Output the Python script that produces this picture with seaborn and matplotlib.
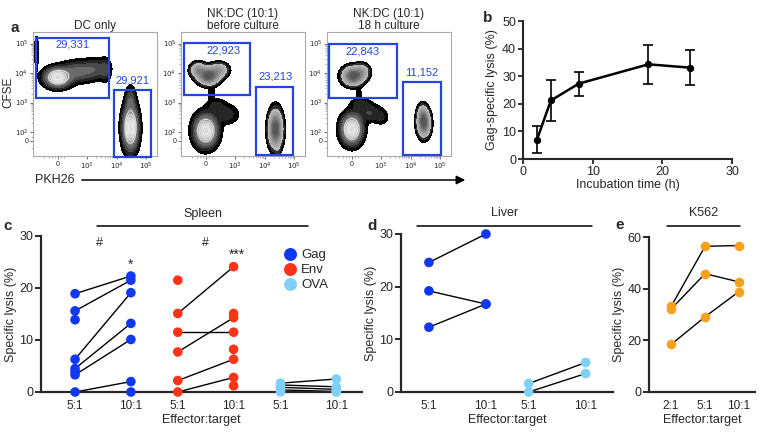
import numpy as np
import pandas as pd
import seaborn as sns
import matplotlib.pyplot as plt
from matplotlib.patches import Rectangle, FancyArrowPatch

sns.set_style('ticks')
plt.rcParams['font.family'] = ['Liberation Sans', 'DejaVu Sans']

# ---------------- data ----------------
# panel a: flow plots (gate counts and population shapes, axis units = decades)
flow_titles = ['DC only', 'NK:DC (10:1)\nbefore culture', 'NK:DC (10:1)\n18 h culture']
cfse_counts = ['29,331', '22,923', '22,843']
pkh_counts = ['29,921', '23,213', '11,152']
# gate boxes (u0, v0, u1, v1)
cfse_gates = [(-0.75, 3.17, 1.73, 5.2), (-0.75, 3.24, 1.49, 5.03), (-0.78, 3.14, 1.53, 5.0)]
pkh_gates = [(1.9, 1.14, 3.15, 3.41), (1.69, 1.24, 2.95, 3.54), (1.73, 1.24, 3.02, 3.68)]
cfse_label_pos = [(0.51, 4.97), (0.61, 4.76), (0.37, 4.73)]
pkh_label_pos = [(2.54, 3.75), (2.37, 3.88), (2.37, 4.02)]
# populations: (style, [(cu, cv, su, sv, weight), ...])
flow_pops = [
    [('rings', [(0.0, 3.85, 0.25, 0.18, 1.0), (0.7, 4.05, 0.35, 0.2, 0.3), (1.3, 4.15, 0.25, 0.2, 0.18),
                (1.62, 4.1, 0.1, 0.22, 0.15), (-0.72, 4.7, 0.05, 0.4, 0.08)]),
     ('rings', [(2.47, 2.15, 0.15, 0.42, 1.0), (2.47, 3.1, 0.1, 0.25, 0.2)])],
    [('dark', [(0.1, 3.9, 0.2, 0.16, 1.0), (-0.25, 4.1, 0.15, 0.14, 0.5), (0.45, 4.1, 0.18, 0.14, 0.4),
               (0.2, 3.2, 0.08, 0.18, 0.08)]),
     ('rings', [(0.0, 2.05, 0.22, 0.3, 1.0), (0.7, 2.6, 0.25, 0.2, 0.12), (0.35, 2.9, 0.2, 0.15, 0.1)]),
     ('dark', [(2.37, 2.1, 0.13, 0.35, 1.0), (2.45, 1.3, 0.05, 0.2, 0.05)])],
    [('dark', [(0.05, 3.9, 0.2, 0.17, 1.0), (0.35, 4.05, 0.15, 0.15, 0.3), (0.25, 3.2, 0.07, 0.15, 0.08)]),
     ('rings', [(0.0, 2.1, 0.2, 0.28, 1.0), (0.6, 2.65, 0.25, 0.18, 0.15), (1.0, 2.5, 0.15, 0.15, 0.08),
                (0.3, 2.95, 0.2, 0.12, 0.12)]),
     ('dark', [(2.45, 2.3, 0.12, 0.25, 1.0), (2.4, 2.6, 0.1, 0.2, 0.3)])],
]

# panel b
b_time = [2, 4, 8, 18, 24]
b_lysis = [7.0, 21.2, 27.3, 34.3, 33.1]
b_err = [4.8, 7.4, 4.3, 7.0, 6.3]

# panel c: spleen (paired; nan = not measured at that ratio)
nan = np.nan
gag_5 = [18.9, 15.6, 6.3, 4.5, 3.3, 0.0, 13.9, 3.9, nan]
gag_10 = [22.3, 21.5, 19.1, 13.2, 10.1, 2.0, nan, nan, 0.0]
env_5 = [15.1, 11.5, 7.7, 2.2, 0.0, 21.5, nan, nan, nan]
env_10 = [24.1, 11.5, 14.3, 6.3, 2.8, nan, 15.1, 8.2, 1.2]
ova_5 = [1.7, 1.35, 0.9, 0.4, 0.0]
ova_10 = [2.5, 1.0, 0.5, 0.1, 0.0]

# panel d: liver
gag_liver_5 = [24.6, 19.2, 12.3]
gag_liver_10 = [30.0, 16.7, 16.7]
ova_liver_5 = [1.6, 0.0]
ova_liver_10 = [5.6, 3.5]

# panel e: K562
k562_2 = [33.1, 32.1, 18.4]
k562_5 = [56.4, 45.8, 29.1]
k562_10 = [56.7, 42.6, 38.9]

colors = {'Gag': '#1138f0', 'Env': '#fa3517', 'OVA': '#7fd0f7', 'K562': '#f8a11c'}
gate_blue = '#2446e0'


def long_df(antigen, group, ratios, series):
    rows = []
    for ratio, vals in zip(ratios, series):
        for i, v in enumerate(vals):
            rows.append({'antigen': antigen, 'pair': f'{group}{i}', 'ratio': f'{group} {ratio}', 'lysis': v})
    return pd.DataFrame(rows)


fig = plt.figure(figsize=(7.62, 4.33), dpi=100)
W, H = 762, 433


def box(l, t, r, b):
    return [l / W, 1 - b / H, (r - l) / W, (b - t) / H]


def fx(px):
    return px / W


def fy(py):
    return 1 - py / H


# ---------------- panel a ----------------
uu, vv = np.meshgrid(np.linspace(-0.9, 3.45, 320), np.linspace(1.1, 5.45, 320))
levels = [0.03, 0.08, 0.15, 0.25, 0.4, 0.55, 0.7, 0.85, 1.01]
ring_cols = ['black', '#262626', '#4a4a4a', '#6a6a6a', '#8a8a8a', '#a8a8a8', '#c2c2c2', '#dadada']
dark_cols = ['black', '#303030', '#b8b8b8', '#a6a6a6', '#929292', '#7c7c7c', '#686868', '#575757']

flow_lefts = [33, 181, 327]
for k in range(3):
    ax = fig.add_axes(box(flow_lefts[k], 32, flow_lefts[k] + 124, 156))
    for style, comps in flow_pops[k]:
        d = np.zeros_like(uu)
        for cu, cv, su, sv, w in comps:
            d += w * np.exp(-0.5 * (((uu - cu) / su) ** 2 + ((vv - cv) / sv) ** 2))
        d = d / d.max()
        ax.contourf(uu, vv, d, levels=levels, colors=ring_cols if style == 'rings' else dark_cols)
        if style == 'rings':
            ax.contour(uu, vv, d, levels=[0.45, 0.6, 0.75, 0.9], colors='#f2f2f2', linewidths=0.6)
    for (u0, v0, u1, v1) in (cfse_gates[k], pkh_gates[k]):
        ax.add_patch(Rectangle((u0, v0), u1 - u0, v1 - v0, fill=False, ec=gate_blue, lw=1.6,
                               clip_on=False, zorder=5))
    ax.text(*cfse_label_pos[k], cfse_counts[k], color=gate_blue, fontsize=8, ha='center', va='center')
    ax.text(*pkh_label_pos[k], pkh_counts[k], color=gate_blue, fontsize=8, ha='center', va='center')
    ax.set_xlim(-0.84, 3.37)
    ax.set_ylim(1.19, 5.39)
    ax.set_xticks([0, 1, 2, 3], ['0', '$10^3$', '$10^4$', '$10^5$'])
    ax.set_yticks([1.7, 2, 3, 4, 5], ['0', '$10^2$', '$10^3$', '$10^4$', '$10^5$'])
    ax.set_xticks([-0.45, -0.3, -0.2, -0.1, 0.1, 0.2] + [1 + np.log10(m) for m in range(2, 10)]
                  + [2 + np.log10(m) for m in range(2, 10)], minor=True)
    ax.set_yticks([1.45, 1.85] + [e + np.log10(m) for e in (2, 3, 4) for m in range(2, 10)], minor=True)
    ax.tick_params(which='major', labelsize=5, length=2.2, width=0.6, color='#555', pad=1.2)
    ax.tick_params(which='minor', length=1.2, width=0.4, color='#777')
    for s in ax.spines.values():
        s.set_color('#aaaaaa')
        s.set_linewidth(0.8)
    ax.set_title(flow_titles[k], fontsize=8.5, pad=2, linespacing=1.05)

fig.text(fx(15), fy(28), 'a', fontsize=11, fontweight='bold', ha='center', va='center')
fig.text(fx(8), fy(92), 'CFSE', fontsize=8.5, rotation=90, ha='center', va='center')
fig.text(fx(35), fy(180), 'PKH26', fontsize=9, ha='left', va='center')
fig.add_artist(FancyArrowPatch((fx(79), fy(180)), (fx(468), fy(180)), transform=fig.transFigure,
                               arrowstyle='-|>', mutation_scale=13, lw=1.1, color='black'))

# ---------------- panel b ----------------
axb = fig.add_axes(box(523, 21, 732, 159))
sns.lineplot(x=b_time, y=b_lysis, ax=axb, color='black', lw=1.8, marker='o', ms=4.5, mec='black')
axb.errorbar(b_time, b_lysis, yerr=b_err, fmt='none', ecolor='black', elinewidth=1.2, capsize=3.5,
             capthick=1.2)
axb.set_xlim(0, 30)
axb.set_ylim(0, 50)
axb.set_xticks([0, 10, 20, 30])
axb.set_yticks([0, 10, 20, 30, 40, 50])
axb.set_xlabel('Incubation time (h)', fontsize=9, labelpad=1)
axb.set_ylabel('Gag-specific lysis (%)', fontsize=9, labelpad=3)
sns.despine(ax=axb)
for s in ('left', 'bottom'):
    axb.spines[s].set_linewidth(1.5)
axb.tick_params(labelsize=9, length=3.5, width=1.3, pad=1.5)
fig.text(fx(488), fy(18), 'b', fontsize=11, fontweight='bold', ha='center', va='center')


def style_dot_axes(ax):
    sns.despine(ax=ax)
    for s in ('left', 'bottom'):
        ax.spines[s].set_linewidth(1.6)
    ax.tick_params(axis='y', labelsize=9, length=4, width=1.4, pad=1.5)
    ax.tick_params(axis='x', labelsize=8.5, length=0, pad=6)


def paired(ax, df, pos):
    df = df.copy()
    df['x'] = df['ratio'].map(pos)
    sns.lineplot(data=df.dropna(), x='x', y='lysis', units='pair', estimator=None, color='black',
                 lw=1.0, ax=ax, legend=False)
    return df


# ---------------- panel c ----------------
axc = fig.add_axes(box(41, 236, 362, 392))
c_pos = {'g 5:1': 0, 'g 10:1': 1, 'e 5:1': 1.84, 'e 10:1': 2.84, 'o 5:1': 3.68, 'o 10:1': 4.68}
dfc = pd.concat([long_df('Gag', 'g', ['5:1', '10:1'], [gag_5, gag_10]),
                 long_df('Env', 'e', ['5:1', '10:1'], [env_5, env_10]),
                 long_df('OVA', 'o', ['5:1', '10:1'], [ova_5, ova_10])])
dfc = paired(axc, dfc, c_pos)
sns.scatterplot(data=dfc.dropna(), x='x', y='lysis', hue='antigen', hue_order=['Gag', 'Env', 'OVA'],
                palette=colors, s=48, linewidth=0, ax=axc, zorder=3, clip_on=False)
axc.set_xlim(-0.61, 5.14)
axc.set_ylim(0, 30)
axc.set_yticks([0, 10, 20, 30])
axc.set_xticks(list(c_pos.values()), [k.split(' ')[1] for k in c_pos])
axc.set_xlabel('Effector:target', fontsize=9, labelpad=1)
axc.set_ylabel('Specific lysis (%)', fontsize=9, labelpad=2)
style_dot_axes(axc)
sns.move_legend(axc, 'upper left', bbox_to_anchor=(0.755, 0.915), frameon=False, title=None,
                fontsize=9.5, markerscale=1.35, handlelength=1.0, handletextpad=0.35,
                labelspacing=0.2, borderpad=0, borderaxespad=0)
axc.plot([0.39, 4.18], [31.9, 31.9], color='black', lw=1.1, clip_on=False)
axc.text(2.29, 34.2, 'Spleen', fontsize=9, ha='center', va='center')
axc.text(0.43, 28.6, '#', fontsize=9, ha='center', va='center')
axc.text(2.34, 28.6, '#', fontsize=9, ha='center', va='center')
axc.text(1.0, 24.4, '*', fontsize=10, ha='center', va='center')
axc.text(2.9, 26.3, '***', fontsize=10, ha='center', va='center')
fig.text(fx(8), fy(226), 'c', fontsize=11, fontweight='bold', ha='center', va='center')

# ---------------- panel d ----------------
axd = fig.add_axes(box(401, 234, 613, 392))
d_pos = {'g 5:1': 0, 'g 10:1': 1, 'o 5:1': 1.75, 'o 10:1': 2.75}
dfd = pd.concat([long_df('Gag', 'g', ['5:1', '10:1'], [gag_liver_5, gag_liver_10]),
                 long_df('OVA', 'o', ['5:1', '10:1'], [ova_liver_5, ova_liver_10])])
dfd = paired(axd, dfd, d_pos)
sns.scatterplot(data=dfd, x='x', y='lysis', hue='antigen', palette=colors, s=48, linewidth=0,
                ax=axd, zorder=3, clip_on=False, legend=False)
axd.set_xlim(-0.49, 3.23)
axd.set_ylim(0, 30)
axd.set_yticks([0, 10, 20, 30])
axd.set_xticks(list(d_pos.values()), [k.split(' ')[1] for k in d_pos])
axd.set_xlabel('Effector:target', fontsize=9, labelpad=1)
axd.set_ylabel('Specific lysis (%)', fontsize=9, labelpad=2)
style_dot_axes(axd)
axd.plot([-0.21, 2.86], [31.5, 31.5], color='black', lw=1.1, clip_on=False)
axd.text(1.33, 33.9, 'Liver', fontsize=9, ha='center', va='center')
fig.text(fx(372), fy(226), 'd', fontsize=11, fontweight='bold', ha='center', va='center')

# ---------------- panel e ----------------
axe = fig.add_axes(box(649, 237, 755, 392))
e_pos = {'k 2:1': 0, 'k 5:1': 1, 'k 10:1': 2}
dfe = long_df('K562', 'k', ['2:1', '5:1', '10:1'], [k562_2, k562_5, k562_10])
dfe = paired(axe, dfe, e_pos)
sns.scatterplot(data=dfe, x='x', y='lysis', color=colors['K562'], s=48, linewidth=0,
                ax=axe, zorder=3, clip_on=False)
axe.set_xlim(-0.65, 2.47)
axe.set_ylim(0, 60)
axe.set_yticks([0, 20, 40, 60])
axe.set_xticks(list(e_pos.values()), [k.split(' ')[1] for k in e_pos])
axe.set_xlabel('Effector:target', fontsize=9, labelpad=1)
axe.set_ylabel('Specific lysis (%)', fontsize=9, labelpad=2)
style_dot_axes(axe)
axe.plot([-0.12, 2.03], [64.3, 64.3], color='black', lw=1.1, clip_on=False)
axe.text(0.97, 69.3, 'K562', fontsize=9, ha='center', va='center')
fig.text(fx(620), fy(225), 'e', fontsize=11, fontweight='bold', ha='center', va='center')

fig.savefig('out.png', dpi=100)
